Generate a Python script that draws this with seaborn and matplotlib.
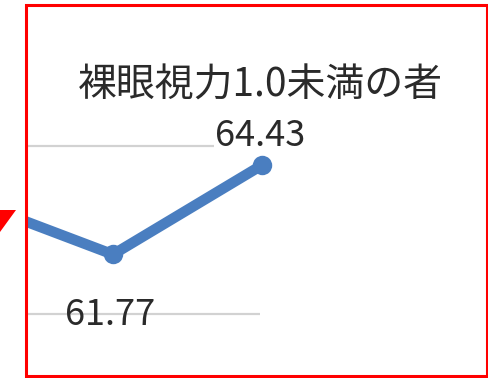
import numpy as np
import pandas as pd
import matplotlib
matplotlib.use("Agg")
import matplotlib.pyplot as plt
from matplotlib.patches import Rectangle, Polygon
import seaborn as sns

# Series values (percent), one point per survey period
positions = [0, 1, 2]
values = [63.45, 61.77, 64.43]
labelled = {1: "61.77", 2: "64.43"}
title = "裸眼視力1.0未満の者"
grid_levels = [60, 65]
grid_ends = [1.987, 1.678]

sns.set_theme(style="white")
plt.rcParams["font.family"] = ["Noto Sans CJK JP", "DejaVu Sans"]

W, H = 488, 378
fig = plt.figure(figsize=(W / 100, H / 100), dpi=100)
fig.patch.set_facecolor("white")

# plot area fills the framed region
ax = fig.add_axes([27 / W, 3 / H, 459 / W, 369 / H])
ax.set_facecolor("none")
ax.set_xlim(0.423, 3.503)
ax.set_ylim(58.18, 69.17)
for s in ax.spines.values():
    s.set_visible(False)
ax.set_xticks([])
ax.set_yticks([])

# horizontal gridlines
for lvl, end in zip(grid_levels, grid_ends):
    ax.hlines(lvl, 0.423, end, colors="#d2d2d2", linewidth=1.6, zorder=1)

df = pd.DataFrame({"x": positions, "y": values})
sns.lineplot(data=df, x="x", y="y", ax=ax, color="#4a7ec0", linewidth=7.6,
             marker="o", markersize=14, markeredgewidth=0,
             solid_capstyle="round", solid_joinstyle="round", zorder=3)
ax.set_xlabel("")
ax.set_ylabel("")

# value labels
offsets = {1: (-3, -61), 2: (-2, 29)}
for i, txt in labelled.items():
    ax.annotate(txt, (positions[i], values[i]), xytext=offsets[i],
                textcoords="offset pixels", ha="center", va="center",
                fontsize=26, color="#2a2a2a", zorder=4)

fig.text(260 / W, 1 - 86 / H, title, ha="center", va="center",
         fontsize=28, color="#2a2a2a")

# red frame and arrow tip
fig.patches.append(Rectangle((26 / W, 1 - 376 / H), 461 / W, 371 / H,
                             transform=fig.transFigure, fill=False,
                             edgecolor="#ff0000", linewidth=2.2, zorder=10))
fig.patches.append(Polygon([(0, 1 - 210 / H), (16 / W, 1 - 210 / H), (0, 1 - 232 / H)],
                           closed=True, transform=fig.transFigure,
                           facecolor="#ff0000", edgecolor="none", zorder=10))

fig.savefig("out.png", dpi=100)
